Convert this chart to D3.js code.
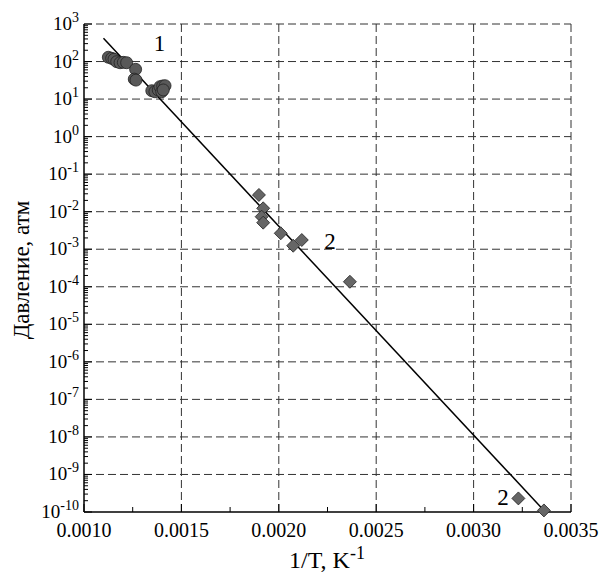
<!DOCTYPE html>
<html><head><meta charset="utf-8">
<script src="https://cdn.jsdelivr.net/npm/d3@7"></script>
<style>body{margin:0;background:#fff}svg{display:block}text{font-family:"Liberation Serif","Times New Roman",serif;fill:#000}</style>
</head><body>
<svg id="c" width="599" height="575"></svg>
<script>
// Series 1 (circles)
const s1X = [0.001125,0.001142,0.001154,0.001168,0.001185,0.001202,0.001219,0.001265,0.001258,0.001267,0.001348,0.001364,0.001381,0.00139,0.001404,0.001416,0.001399,0.001407];
const s1Y = [130,122,115,99,93,95,93,62,34,32,16.7,15.7,17.5,21.4,22.3,22.7,15.7,17.5];
// Series 2 (diamonds)
const s2X = [0.001898,0.00192,0.001912,0.00192,0.00201,0.002074,0.002118,0.002365,0.00323,0.003361];
const s2Y = [0.0279,0.0123,0.00736,0.0051,0.00266,0.00124,0.00176,1.36e-4,2.3e-10,1.1e-10];
// Fit line
const fitX = [0.0011,0.003361];
const fitY = [416,1.1e-10];
// Ticks
const xTicks = [0.0010,0.0015,0.0020,0.0025,0.0030,0.0035];
const xTickLabels = ["0.0010","0.0015","0.0020","0.0025","0.0030","0.0035"];
const yExps = [3,2,1,0,-1,-2,-3,-4,-5,-6,-7,-8,-9,-10];
// Annotations
const notes = [{t:"1",x:0.001387,y:300},{t:"2",x:0.002263,y:0.0016},{t:"2",x:0.003151,y:2.4e-10}];

const svg = d3.select("#c");
const L=84,R=571,T=24,B=512;
const x = d3.scaleLinear().domain([0.0010,0.0035]).range([L,R]);
const y = d3.scaleLog().domain([1e-10,1e3]).range([B,T]);

// grid
const g = svg.append("g");
xTicks.slice(1).forEach(v=>{
  g.append("line").attr("x1",x(v)).attr("x2",x(v)).attr("y1",T).attr("y2",B)
   .attr("stroke","#333").attr("stroke-width",1).attr("stroke-dasharray","8,4");
});
yExps.filter(e=>e>-10).forEach(e=>{
  g.append("line").attr("x1",L).attr("x2",R).attr("y1",y(Math.pow(10,e))).attr("y2",y(Math.pow(10,e)))
   .attr("stroke","#333").attr("stroke-width",1).attr("stroke-dasharray","8,4");
});

// y minor ticks
for(let e=-10;e<3;e++){
  for(let m=2;m<10;m++){
    const yy=y(m*Math.pow(10,e));
    svg.append("line").attr("x1",L).attr("x2",L+4).attr("y1",yy).attr("y2",yy).attr("stroke","#000").attr("stroke-width",1);
  }
}
yExps.forEach(e=>{
  const yy=y(Math.pow(10,e));
  svg.append("line").attr("x1",L).attr("x2",L+8).attr("y1",yy).attr("y2",yy).attr("stroke","#000").attr("stroke-width",1);
  const t=svg.append("text").attr("x",79).attr("y",yy+6).attr("text-anchor","end").attr("font-size",19);
  t.append("tspan").text("10");
  t.append("tspan").attr("dy",-8).attr("font-size",14).text(e);
});
// x ticks
xTicks.forEach((v,i)=>{
  svg.append("line").attr("x1",x(v)).attr("x2",x(v)).attr("y1",B).attr("y2",B-8).attr("stroke","#000").attr("stroke-width",1);
  svg.append("text").attr("x",x(v)).attr("y",537).attr("text-anchor","middle").attr("font-size",20).text(xTickLabels[i]);
  if(i<xTicks.length-1){
    const mv=v+0.00025;
    svg.append("line").attr("x1",x(mv)).attr("x2",x(mv)).attr("y1",B).attr("y2",B-5).attr("stroke","#000").attr("stroke-width",1);
  }
});
// axes
svg.append("line").attr("x1",L).attr("x2",L).attr("y1",T).attr("y2",B).attr("stroke","#000").attr("stroke-width",1.5);
svg.append("line").attr("x1",L).attr("x2",R).attr("y1",B).attr("y2",B).attr("stroke","#000").attr("stroke-width",1.5);

// fit line
const line=d3.line().x(d=>x(d[0])).y(d=>y(d[1]));
svg.append("path").datum(fitX.map((v,i)=>[v,fitY[i]])).attr("d",line).attr("fill","none").attr("stroke","#000").attr("stroke-width",1.5);

// circles
svg.append("g").selectAll("circle").data(s1X.map((v,i)=>[v,s1Y[i]])).join("circle")
  .attr("cx",d=>x(d[0])).attr("cy",d=>y(d[1])).attr("r",6)
  .attr("fill","#595959").attr("stroke","#222").attr("stroke-width",0.8);
// diamonds
svg.append("g").selectAll("path").data(s2X.map((v,i)=>[v,s2Y[i]])).join("path")
  .attr("d",d=>{const cx=x(d[0]),cy=y(d[1]),s=6.5;return `M${cx},${cy-s}L${cx+s},${cy}L${cx},${cy+s}L${cx-s},${cy}Z`;})
  .attr("fill","#666").attr("stroke","#222").attr("stroke-width",0.8);

// annotations
notes.forEach(n=>{
  svg.append("text").attr("x",x(n.x)).attr("y",y(n.y)+7).attr("text-anchor","middle").attr("font-size",23).text(n.t);
});

// axis titles
const xt=svg.append("text").attr("x",327).attr("y",568).attr("text-anchor","middle").attr("font-size",24);
xt.append("tspan").text("1/T, K");
xt.append("tspan").attr("dy",-9).attr("font-size",18).text("-1");
svg.append("text").attr("transform","translate(29,270) rotate(-90)").attr("text-anchor","middle").attr("font-size",23).text("Давление, атм");
</script>
</body></html>
